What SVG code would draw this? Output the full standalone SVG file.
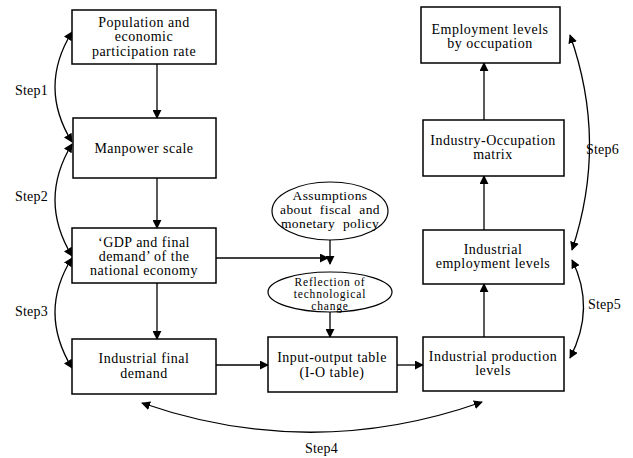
<svg xmlns="http://www.w3.org/2000/svg" width="633" height="458" viewBox="0 0 633 458" font-family="Liberation Serif, DejaVu Serif, Times New Roman, serif">
  <style>
    .box { fill: #fff; stroke: #000; stroke-width: 1.5; }
    .ell { fill: #fff; stroke: #000; stroke-width: 1.2; }
    .t { font-size: 14px; text-anchor: middle; fill: #000; letter-spacing: 0.5px; }
    .s { font-size: 14px; fill: #000; letter-spacing: 0.2px; }
    .e { font-size: 13.5px; letter-spacing: 0.4px; word-spacing: 4px; }
    .e2 { font-size: 11.5px; letter-spacing: 0.8px; }
    .ln { fill: none; stroke: #000; stroke-width: 1.3; }
  </style>
  <defs>
    <marker id="ah" viewBox="0 0 10 10" refX="9" refY="5" markerWidth="9" markerHeight="9" markerUnits="userSpaceOnUse" orient="auto-start-reverse">
      <path d="M0,0 L10,5 L0,10 z" fill="#000"/>
    </marker>
  </defs>

  <g id="connectors">
    <!-- main flow -->
    <line class="ln" x1="157" y1="64" x2="157" y2="118" marker-end="url(#ah)"/>
    <line class="ln" x1="157" y1="178" x2="157" y2="228" marker-end="url(#ah)"/>
    <line class="ln" x1="157" y1="283" x2="157" y2="339" marker-end="url(#ah)"/>
    <line class="ln" x1="216" y1="258" x2="328" y2="258" marker-end="url(#ah)"/>
    <line class="ln" x1="330" y1="240" x2="330" y2="264" marker-end="url(#ah)"/>
    <line class="ln" x1="330" y1="312" x2="330" y2="337" marker-end="url(#ah)"/>
    <line class="ln" x1="216" y1="365" x2="268" y2="365" marker-end="url(#ah)"/>
    <line class="ln" x1="397" y1="365" x2="423" y2="365" marker-end="url(#ah)"/>
    <line class="ln" x1="484" y1="337" x2="484" y2="284" marker-end="url(#ah)"/>
    <line class="ln" x1="484" y1="230" x2="484" y2="176" marker-end="url(#ah)"/>
    <line class="ln" x1="484" y1="120" x2="484" y2="63" marker-end="url(#ah)"/>
    <!-- step curves -->
    <path class="ln" d="M72,32 Q38,87 72,142" marker-start="url(#ah)" marker-end="url(#ah)"/>
    <path class="ln" d="M72,144 Q38,200 72,256" marker-start="url(#ah)" marker-end="url(#ah)"/>
    <path class="ln" d="M72,258 Q38,312 72,368" marker-start="url(#ah)" marker-end="url(#ah)"/>
    <path class="ln" d="M142,403 Q312,462 482,402" marker-start="url(#ah)" marker-end="url(#ah)"/>
    <path class="ln" d="M572,260 Q596,308 570,358" marker-start="url(#ah)" marker-end="url(#ah)"/>
    <path class="ln" d="M570,35 Q608,142 572,250" marker-start="url(#ah)" marker-end="url(#ah)"/>
  </g>

  <g id="step-labels">
    <text class="s" x="15" y="95">Step1</text>
    <text class="s" x="15" y="201">Step2</text>
    <text class="s" x="15" y="316">Step3</text>
    <text class="s" x="305" y="453">Step4</text>
    <text class="s" x="588" y="309">Step5</text>
    <text class="s" x="586" y="154">Step6</text>
  </g>

  <g id="population">
    <rect class="box" x="72" y="10" width="144" height="54"/>
    <text class="t" x="144" y="27">Population and</text>
    <text class="t" x="144" y="41">economic</text>
    <text class="t" x="144" y="56">participation rate</text>
  </g>
  <g id="manpower">
    <rect class="box" x="73" y="118" width="143" height="60"/>
    <text class="t" x="144" y="153">Manpower scale</text>
  </g>
  <g id="gdp">
    <rect class="box" x="72" y="228" width="144" height="55"/>
    <text class="t" x="144" y="247">‘GDP and final</text>
    <text class="t" x="144" y="261">demand’ of the</text>
    <text class="t" x="144" y="275">national economy</text>
  </g>
  <g id="final-demand">
    <rect class="box" x="72" y="339" width="144" height="55"/>
    <text class="t" x="144" y="363">Industrial final</text>
    <text class="t" x="144" y="378">demand</text>
  </g>
  <g id="io-table">
    <rect class="box" x="268" y="337" width="129" height="55"/>
    <text class="t" x="332" y="362">Input-output table</text>
    <text class="t" x="332" y="377">(I-O table)</text>
  </g>
  <g id="production">
    <rect class="box" x="423" y="337" width="141" height="54"/>
    <text class="t" x="493" y="361">Industrial production</text>
    <text class="t" x="493" y="375">levels</text>
  </g>
  <g id="ind-employment">
    <rect class="box" x="423" y="230" width="141" height="54"/>
    <text class="t" x="493" y="254">Industrial</text>
    <text class="t" x="493" y="268">employment levels</text>
  </g>
  <g id="occ-matrix">
    <rect class="box" x="423" y="120" width="141" height="56"/>
    <text class="t" x="493" y="145">Industry-Occupation</text>
    <text class="t" x="493" y="159">matrix</text>
  </g>
  <g id="occ-employment">
    <rect class="box" x="421" y="7" width="139" height="56"/>
    <text class="t" x="490" y="34">Employment levels</text>
    <text class="t" x="490" y="48">by occupation</text>
  </g>
  <g id="assumptions">
    <ellipse class="ell" cx="330" cy="211" rx="58" ry="29"/>
    <text class="t e" x="330" y="200">Assumptions</text>
    <text class="t e" x="330" y="214">about fiscal and</text>
    <text class="t e" x="330" y="228">monetary policy</text>
  </g>
  <g id="tech-change">
    <ellipse class="ell" cx="330" cy="292" rx="62" ry="20"/>
    <text class="t e2" x="330" y="286">Reflection of</text>
    <text class="t e2" x="330" y="298">technological</text>
    <text class="t e2" x="330" y="310">change</text>
  </g>
</svg>
